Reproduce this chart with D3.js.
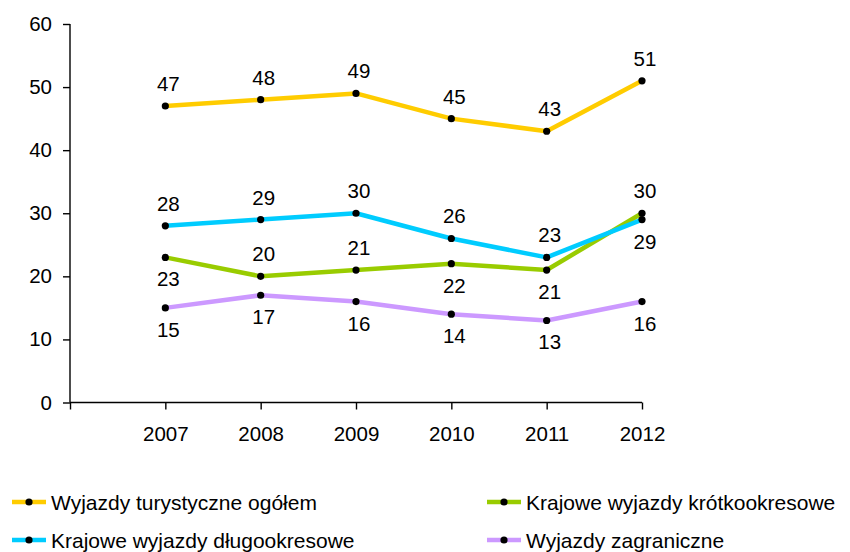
<!DOCTYPE html>
<html>
<head>
<meta charset="utf-8">
<script src="https://cdn.jsdelivr.net/npm/d3@7"></script>
<style>
  body { margin: 0; background: #fff; }
  svg { display: block; font-family: "Liberation Sans", Arial, sans-serif; }
</style>
</head>
<body>
<div class="svg-container"></div>
<script>
// data
const years = [2007, 2008, 2009, 2010, 2011, 2012];
const seriesNames = [
    'Wyjazdy turystyczne ogółem',
    'Krajowe wyjazdy krótkookresowe',
    'Krajowe wyjazdy długookresowe',
    'Wyjazdy zagraniczne'
];
const ogolem = [47, 48, 49, 45, 43, 51];
const krotkookresowe = [23, 20, 21, 22, 21, 30];
const dlugookresowe = [28, 29, 30, 26, 23, 29];
const zagraniczne = [15, 17, 16, 14, 13, 16];
const yTicks = [0, 10, 20, 30, 40, 50, 60];

// drawing options (colour and which side the value label goes)
const colors = ['#FFCC00', '#99CC00', '#00CCFF', '#CC99FF'];
const labelSide = [
    ['up', 'up', 'up', 'up', 'up', 'up'],
    ['down', 'up', 'up', 'down', 'down', 'up'],
    ['up', 'up', 'up', 'up', 'up', 'down'],
    ['down', 'down', 'down', 'down', 'down', 'down']
];

const series = [ogolem, krotkookresowe, dlugookresowe, zagraniczne].map((vals, i) => ({
    name: seriesNames[i],
    color: colors[i],
    points: vals.map((v, j) => ({ year: years[j], value: v, side: labelSide[i][j] }))
}));

const width = 850, height = 552;
const fontSize = 20.5;

const svg = d3.select('.svg-container')
    .append('svg')
    .attr('width', width)
    .attr('height', height);

// x has one empty slot before 2007, like the original
const xScale = d3.scaleLinear()
    .domain([years[0] - 1, years[years.length - 1]])
    .range([70, 642]);

const yScale = d3.scaleLinear()
    .domain([0, 60])
    .range([402.5, 24]);

const xAxis = d3.axisBottom(xScale)
    .tickValues([years[0] - 1].concat(years))
    .tickFormat(d => years.includes(d) ? d : '')
    .tickSize(7)
    .tickPadding(17);

const yAxis = d3.axisLeft(yScale)
    .tickValues(yTicks)
    .tickSize(7)
    .tickPadding(11);

svg.append('g')
    .attr('class', 'x-axis')
    .attr('transform', `translate(0, ${yScale(0)})`)
    .call(xAxis)
    .call(g => g.selectAll('path, line').attr('stroke', '#000').attr('stroke-width', 1.4))
    .call(g => g.select('.domain').attr('d', `M${xScale.range()[0]},0H${xScale.range()[1]}`))
    .call(g => g.selectAll('text').attr('font-size', fontSize).attr('fill', '#000').attr('font-family', null));

svg.append('g')
    .attr('class', 'y-axis')
    .attr('transform', `translate(${xScale.range()[0]}, 0)`)
    .call(yAxis)
    .call(g => g.selectAll('path, line').attr('stroke', '#000').attr('stroke-width', 1.4))
    .call(g => g.select('.domain').attr('d', `M0,${yScale.range()[1]}V${yScale.range()[0]}`))
    .call(g => g.selectAll('text').attr('font-size', fontSize).attr('fill', '#000').attr('font-family', null));

const line = d3.line()
    .x(d => xScale(d.year))
    .y(d => yScale(d.value));

const groups = svg.selectAll('.series')
    .data(series)
    .join('g')
    .attr('class', 'series');

groups.append('path')
    .attr('d', d => line(d.points))
    .attr('fill', 'none')
    .attr('stroke', d => d.color)
    .attr('stroke-width', 4.5)
    .attr('stroke-linejoin', 'round');

groups.selectAll('circle')
    .data(d => d.points)
    .join('circle')
    .attr('cx', d => xScale(d.year))
    .attr('cy', d => yScale(d.value))
    .attr('r', 3.6)
    .attr('fill', '#000');

groups.selectAll('.value-label')
    .data(d => d.points)
    .join('text')
    .attr('class', 'value-label')
    .attr('x', d => xScale(d.year) + 3)
    .attr('y', d => yScale(d.value) + (d.side === 'up' ? -15 : 29))
    .attr('text-anchor', 'middle')
    .attr('font-size', fontSize)
    .attr('fill', '#000')
    .text(d => d.value);

// legend, two columns
const legendX = [12, 487];
const legendY = [502, 540];
const legend = svg.selectAll('.legend')
    .data(series)
    .join('g')
    .attr('class', 'legend')
    .attr('transform', (d, i) => `translate(${legendX[i % 2]}, ${legendY[Math.floor(i / 2)]})`);

legend.append('line')
    .attr('x1', 0).attr('x2', 34)
    .attr('stroke', d => d.color)
    .attr('stroke-width', 4.5);

legend.append('circle')
    .attr('cx', 17)
    .attr('r', 3.6)
    .attr('fill', '#000');

legend.append('text')
    .attr('x', 39)
    .attr('y', 8)
    .attr('font-size', 21)
    .attr('fill', '#000')
    .text(d => d.name);
</script>
</body>
</html>
